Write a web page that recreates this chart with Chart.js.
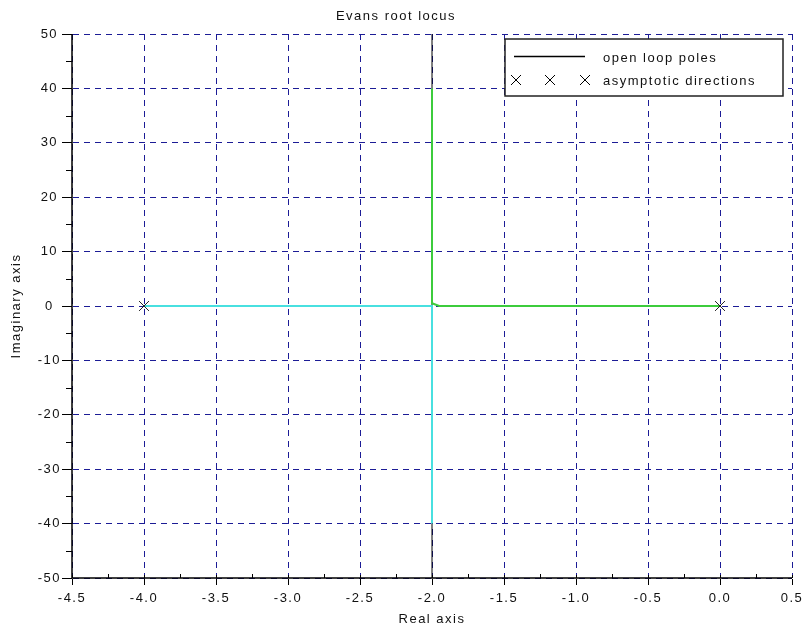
<!DOCTYPE html>
<html lang="en">
<head>
    <meta charset="UTF-8">
    <title>Evans root locus</title>
    <script src="https://cdn.jsdelivr.net/npm/chart.js"></script>
    <style>
        html, body { margin: 0; padding: 0; background: #fff; }
        .wrap { width: 806px; height: 632px; }
    </style>
</head>
<body>
    <div class="wrap"><canvas id="locus" width="806" height="632"></canvas></div>

    <script>
        // axis ticks
        const xTicks = [-4.5, -4.0, -3.5, -3.0, -2.5, -2.0, -1.5, -1.0, -0.5, 0.0, 0.5];
        const xTickLabels = ['-4.5', '-4.0', '-3.5', '-3.0', '-2.5', '-2.0', '-1.5', '-1.0', '-0.5', '0.0', '0.5'];
        const yTicks = [-50, -40, -30, -20, -10, 0, 10, 20, 30, 40, 50];
        const yTickLabels = ['-50', '-40', '-30', '-20', '-10', '0', '10', '20', '30', '40', '50'];

        // locus branches
        const branch1X = [0.0, -1.95, -2.0, -2.0];
        const branch1Y = [0, 0, 0.5, 40];
        const branch2X = [-4.0, -2.0, -2.0];
        const branch2Y = [0, 0, -40];
        // asymptote
        const asymX = [-2.0, -2.0];
        const asymY = [-50, 50];
        // open loop poles
        const poleX = [-4.0, 0.0];
        const poleY = [0, 0];

        const pts = (xs, ys) => xs.map((x, i) => ({ x: x, y: ys[i] }));
        const FONT = '"Liberation Sans", Arial, sans-serif';
        const SPACING = '1.5px';

        // scilab text is spread out a bit
        const spacing = {
            id: 'spacing',
            beforeInit(chart) { chart.ctx.letterSpacing = SPACING; },
            beforeUpdate(chart) { chart.ctx.letterSpacing = SPACING; },
            beforeDraw(chart) { chart.ctx.letterSpacing = SPACING; }
        };

        // axis lines, minor ticks, legend box
        const extras = {
            id: 'extras',
            afterDraw(chart) {
                const ctx = chart.ctx;
                const xs = chart.scales.x, ys = chart.scales.y;
                const a = chart.chartArea;
                ctx.save();
                ctx.strokeStyle = '#000';
                ctx.lineWidth = 1;
                ctx.beginPath();
                for (let i = 0; i < xTicks.length - 1; i++) {
                    const px = Math.round(xs.getPixelForValue((xTicks[i] + xTicks[i + 1]) / 2)) + 0.5;
                    ctx.moveTo(px, a.bottom);
                    ctx.lineTo(px, a.bottom - 4);
                }
                for (let i = 0; i < yTicks.length - 1; i++) {
                    const py = Math.round(ys.getPixelForValue((yTicks[i] + yTicks[i + 1]) / 2)) + 0.5;
                    ctx.moveTo(a.left, py);
                    ctx.lineTo(a.left - 6, py);
                }
                for (let i = 0; i < xTicks.length; i++) {
                    const px = Math.round(xs.getPixelForValue(xTicks[i])) + 0.5;
                    ctx.moveTo(px, a.bottom);
                    ctx.lineTo(px, a.bottom - 3);
                }
                ctx.stroke();

                // solid axis lines (left + bottom only)
                ctx.lineWidth = 1.5;
                ctx.beginPath();
                ctx.moveTo(a.left, a.top);
                ctx.lineTo(a.left, a.bottom);
                ctx.lineTo(a.right, a.bottom);
                ctx.stroke();

                // legend
                const lx = 505, ly = 39, lw = 278, lh = 57;
                ctx.fillStyle = '#fff';
                ctx.fillRect(lx, ly, lw, lh);
                ctx.strokeStyle = '#222';
                ctx.lineWidth = 1.5;
                ctx.strokeRect(lx, ly, lw, lh);
                ctx.strokeStyle = '#000';
                ctx.beginPath();
                ctx.moveTo(514, 56.5);
                ctx.lineTo(585, 56.5);
                ctx.stroke();
                ctx.lineWidth = 1;
                ctx.beginPath();
                [516, 550, 585].forEach(cx => {
                    ctx.moveTo(cx - 5, 75); ctx.lineTo(cx + 5, 85);
                    ctx.moveTo(cx + 5, 75); ctx.lineTo(cx - 5, 85);
                });
                ctx.stroke();
                ctx.fillStyle = '#111';
                ctx.font = '13px ' + FONT;
                ctx.letterSpacing = SPACING;
                ctx.textBaseline = 'middle';
                ctx.fillText('open loop poles', 603, 58);
                ctx.fillText('asymptotic directions', 603, 81);
                ctx.restore();
            }
        };

        const tickFont = { family: FONT, size: 13 };

        new Chart(document.getElementById('locus'), {
            type: 'scatter',
            data: {
                datasets: [{
                    label: 'poles',
                    data: pts(poleX, poleY),
                    pointStyle: 'crossRot',
                    pointRadius: 7,
                    borderColor: '#222',
                    borderWidth: 1,
                    showLine: false
                },
                {
                    label: 'branch 1',
                    data: pts(branch1X, branch1Y),
                    borderColor: '#3ccc3c',
                    borderWidth: 2,
                    showLine: true,
                    pointRadius: 0
                },
                {
                    label: 'branch 2',
                    data: pts(branch2X, branch2Y),
                    borderColor: '#48e0e0',
                    borderWidth: 2,
                    showLine: true,
                    pointRadius: 0
                },
                {
                    label: 'asymptote',
                    data: pts(asymX, asymY),
                    borderColor: '#000',
                    borderWidth: 1,
                    showLine: true,
                    pointRadius: 0
                }]
            },
            options: {
                responsive: false,
                animation: false,
                layout: { padding: { left: 0, right: 14, top: 0, bottom: 0 } },
                plugins: {
                    legend: { display: false },
                    tooltip: { enabled: false },
                    title: {
                        display: true,
                        text: 'Evans root locus',
                        color: '#111',
                        font: { family: FONT, size: 13, weight: 'normal' },
                        padding: { top: 9, bottom: 9.4 }
                    }
                },
                scales: {
                    x: {
                        type: 'linear',
                        min: -4.5,
                        max: 0.5,
                        afterBuildTicks: s => { s.ticks = xTicks.map(v => ({ value: v })); },
                        afterFit: s => { s.height = 54; s.paddingLeft = 0; s.paddingRight = 0; },
                        ticks: {
                            autoSkip: false,
                            maxRotation: 0,
                            color: '#111',
                            padding: 6,
                            font: tickFont,
                            callback: (v, i) => xTickLabels[i]
                        },
                        grid: {
                            color: '#1c1c96',
                            lineWidth: 1,
                            tickLength: 7,
                            tickColor: '#000',
                            tickBorderDash: []
                        },
                        border: { color: 'rgba(0,0,0,0)', width: 1, dash: [6, 5] },
                        title: {
                            display: true,
                            text: 'Real axis',
                            color: '#111',
                            font: tickFont,
                            padding: { top: 4, bottom: 5 }
                        }
                    },
                    y: {
                        type: 'linear',
                        min: -50,
                        max: 50,
                        afterBuildTicks: s => { s.ticks = yTicks.map(v => ({ value: v })); },
                        afterFit: s => { s.width = 72; s.paddingTop = 0; s.paddingBottom = 0; },
                        ticks: {
                            autoSkip: false,
                            color: '#111',
                            padding: 1,
                            crossAlign: 'center',
                            font: tickFont,
                            callback: (v, i) => yTickLabels[i]
                        },
                        grid: {
                            color: '#1c1c96',
                            lineWidth: 1,
                            tickLength: 10,
                            tickColor: '#000',
                            tickBorderDash: []
                        },
                        border: { color: 'rgba(0,0,0,0)', width: 1, dash: [6, 5] },
                        title: {
                            display: true,
                            text: 'Imaginary axis',
                            color: '#111',
                            font: tickFont,
                            padding: { top: 9, bottom: 4 }
                        }
                    }
                }
            },
            plugins: [spacing, extras]
        });
    </script>
</body>
</html>
